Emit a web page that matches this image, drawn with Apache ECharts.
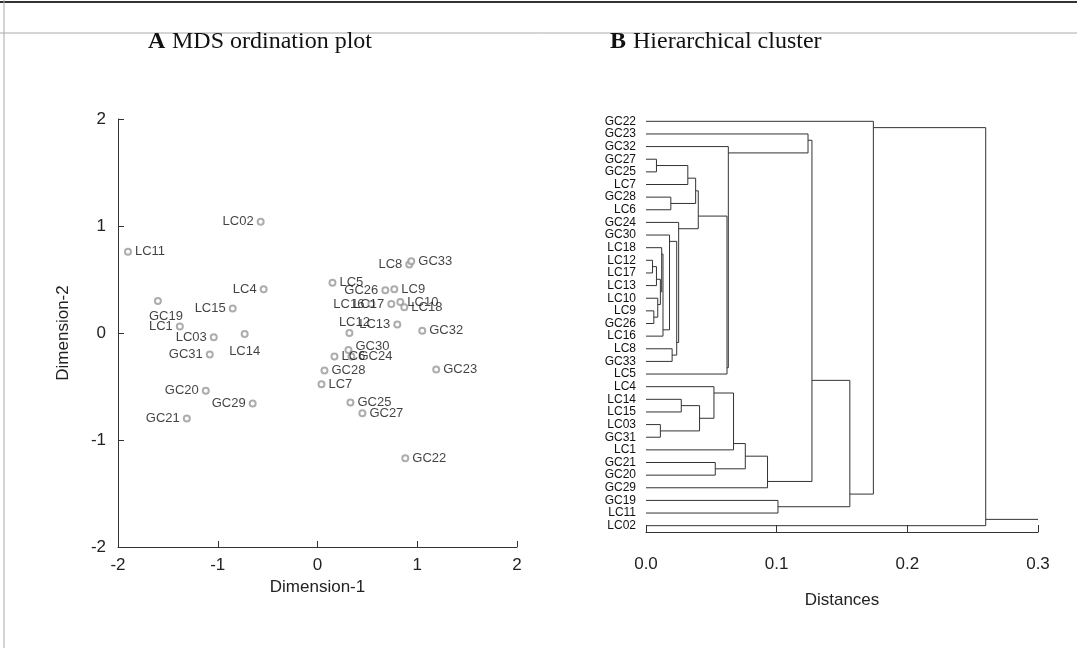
<!DOCTYPE html>
<html><head><meta charset="utf-8">
<script src="https://cdn.jsdelivr.net/npm/echarts@6/dist/echarts.min.js"></script>
<style>html,body{margin:0;padding:0;background:#fff}#c{width:1077px;height:650px}</style>
</head><body><div id="c"></div>
<script>
// ---- Panel A: MDS ordination ----
const pointNames = ['LC02','LC11','LC4','GC19','LC15','LC1','LC03','GC31','LC14','GC20','GC29','GC21',
  'LC8','GC33','LC5','GC26','LC9','LC16','LC17','LC10','LC18','LC13','LC12','GC32','GC30','LC6','GC24',
  'GC28','LC7','GC23','GC25','GC27','GC22'];
const pointX = [-0.57,-1.90,-0.54,-1.60,-0.85,-1.38,-1.04,-1.08,-0.73,-1.12,-0.65,-1.31,
  0.92,0.94,0.15,0.68,0.77,0.54,0.74,0.83,0.87,0.80,0.32,1.05,0.31,0.17,0.34,
  0.07,0.04,1.19,0.33,0.45,0.88];
const pointY = [1.04,0.76,0.41,0.30,0.23,0.06,-0.04,-0.20,-0.01,-0.54,-0.66,-0.80,
  0.64,0.67,0.47,0.40,0.41,0.27,0.27,0.29,0.24,0.08,0.00,0.02,-0.16,-0.22,-0.22,
  -0.35,-0.48,-0.34,-0.65,-0.75,-1.17];
const dimTicks = [-2,-1,0,1,2];

// ---- Panel B: hierarchical cluster ----
const leafOrder = ['GC22','GC23','GC32','GC27','GC25','LC7','GC28','LC6','GC24','GC30','LC18','LC12',
  'LC17','LC13','LC10','LC9','GC26','LC16','LC8','GC33','LC5','LC4','LC14','LC15','LC03','GC31','LC1',
  'GC21','GC20','GC29','GC19','LC11','LC02'];
// merge k creates node "n<k>"
const mergeLeft  = ['LC12','n0','LC9','LC10','n1','LC18','n5','GC30','LC8','n7','GC24','GC27','n11','GC28','n12','n14','n15','GC32','GC23',
  'LC14','LC03','n19','LC4','n22','GC21','n23','n25','n18','GC19','n27','GC22','n30'];
const mergeRight = ['LC17','LC13','GC26','n2','n3','n4','LC16','n6','GC33','n8','n9','GC25','LC7','LC6','n13','n10','LC5','n16','n17',
  'LC15','GC31','n20','n21','LC1','GC20','n24','GC29','n26','LC11','n28','n29','LC02'];
const mergeHeight = [0.005,0.008,0.006,0.009,0.011,0.012,0.013,0.018,0.020,0.0235,0.025,0.008,0.032,0.019,0.038,0.040,0.062,0.063,0.124,
  0.027,0.011,0.041,0.052,0.067,0.053,0.076,0.093,0.127,0.101,0.156,0.174,0.260];
const distTicks = [0, 0.1, 0.2, 0.3];

// label placement for the scatter (style only)
const labelPlace = {
  LC11:['right',0,0], GC19:['bottom',8,2], LC14:['bottom',0,4], GC33:['right',0,0], LC5:['right',0,0],
  LC9:['right',0,0], LC10:['right',0,0], LC18:['right',0,0], LC12:['top',5,3], GC32:['right',0,0],
  GC30:['right',0,-4], LC6:['right',0,0], GC24:['right',0,0], GC28:['right',0,0], LC7:['right',0,0],
  GC23:['right',0,0], GC25:['right',0,0], GC27:['right',0,0], GC22:['right',0,0]
};

const scatterData = pointNames.map((n, i) => {
  const p = labelPlace[n] || ['left',0,0];
  return { name: n, value: [pointX[i], pointY[i]],
    label: { position: p[0], offset: [p[1], p[2]] } };
});

// build dendrogram geometry
const node = {};
leafOrder.forEach((n, i) => node[n] = { y: i, h: 0, lo: i, hi: i });
const segs = [];
mergeLeft.forEach((a, k) => {
  let A = node[a], B = node[mergeRight[k]];
  if (A.lo > B.lo) { const t = A; A = B; B = t; }
  const h = mergeHeight[k];
  const y = (A.hi + B.lo) / 2;
  segs.push({ coords: [[A.h, A.y], [h, A.y], [h, B.y], [B.h, B.y]] });
  node['n' + k] = { y: y, h: h, lo: A.lo, hi: B.hi };
});
const root = node['n' + (mergeLeft.length - 1)];
segs.push({ coords: [[root.h, root.y], [distTicks[distTicks.length - 1], root.y]] });

const axisCol = '#333';
const sans = 'Liberation Sans, Arial, sans-serif';
const serif = 'Liberation Serif, Times New Roman, serif';

const chart = echarts.init(document.getElementById('c'), null, { renderer: 'canvas' });
chart.setOption({
  backgroundColor: '#fff',
  animation: false,
  grid: [
    { left: 118, top: 119, width: 399, height: 428 },
    { left: 646, top: 115, width: 392, height: 417 }
  ],
  xAxis: [
    { gridIndex: 0, type: 'value', min: dimTicks[0], max: dimTicks[dimTicks.length - 1], interval: 1,
      name: 'Dimension-1', nameLocation: 'middle', nameGap: 27,
      nameTextStyle: { fontFamily: sans, fontSize: 17, color: '#222' },
      axisLine: { onZero: false, lineStyle: { color: axisCol, width: 1 } },
      axisTick: { inside: true, length: 6, lineStyle: { color: axisCol } },
      axisLabel: { fontFamily: sans, fontSize: 17, color: '#222', margin: 10 },
      splitLine: { show: false } },
    { gridIndex: 1, type: 'value', min: 0, max: 0.3, interval: 0.1,
      name: 'Distances', nameLocation: 'middle', nameGap: 60,
      nameTextStyle: { fontFamily: sans, fontSize: 17, color: '#222' },
      axisLine: { onZero: false, lineStyle: { color: axisCol, width: 1 } },
      axisTick: { inside: true, length: 7, lineStyle: { color: axisCol } },
      axisLabel: { fontFamily: sans, fontSize: 17, color: '#222', margin: 24,
        formatter: v => v.toFixed(1) },
      splitLine: { show: false } }
  ],
  yAxis: [
    { gridIndex: 0, type: 'value', min: dimTicks[0], max: dimTicks[dimTicks.length - 1], interval: 1,
      name: 'Dimension-2', nameLocation: 'middle', nameGap: 46, nameRotate: 90,
      nameTextStyle: { fontFamily: sans, fontSize: 17, color: '#222' },
      axisLine: { show: true, onZero: false, lineStyle: { color: axisCol, width: 1 } },
      axisTick: { show: true, inside: true, length: 6, lineStyle: { color: axisCol } },
      axisLabel: { fontFamily: sans, fontSize: 17, color: '#222', margin: 12 },
      splitLine: { show: false } },
    { gridIndex: 1, type: 'value', min: -0.5, max: leafOrder.length - 0.5, inverse: true, show: false },
    { gridIndex: 1, type: 'category', data: leafOrder, inverse: true, position: 'left',
      axisLine: { show: false, onZero: false }, axisTick: { show: false },
      axisLabel: { fontFamily: sans, fontSize: 12, color: '#111', margin: 10, interval: 0 } }
  ],
  series: [
    { type: 'scatter', xAxisIndex: 0, yAxisIndex: 0, data: scatterData,
      symbol: 'emptyCircle', symbolSize: 6,
      itemStyle: { color: '#999', borderWidth: 1 },
      label: { show: true, formatter: '{b}', fontFamily: sans, fontSize: 13, color: '#111', distance: 3 } },
    { type: 'lines', coordinateSystem: 'cartesian2d', xAxisIndex: 1, yAxisIndex: 1,
      polyline: true, data: segs, silent: true,
      lineStyle: { color: '#333', width: 1, opacity: 1 } }
  ],
  graphic: [
    { type: 'line', shape: { x1: 0, y1: 2, x2: 1077, y2: 2 }, style: { stroke: '#333', lineWidth: 2 }, z: 0 },
    { type: 'line', shape: { x1: 0, y1: 33, x2: 1077, y2: 33 }, style: { stroke: '#aaa', lineWidth: 1 }, z: 0 },
    { type: 'line', shape: { x1: 4, y1: 0, x2: 4, y2: 648 }, style: { stroke: '#aaa', lineWidth: 1 }, z: 0 },
    { type: 'text', x: 148, y: 42, z: 10,
      style: { text: 'A', font: 'bold 24px ' + serif, fill: '#111', textVerticalAlign: 'middle' } },
    { type: 'text', x: 172, y: 42, z: 10,
      style: { text: 'MDS ordination plot', font: '24px ' + serif, fill: '#111', textVerticalAlign: 'middle' } },
    { type: 'text', x: 610, y: 42, z: 10,
      style: { text: 'B', font: 'bold 24px ' + serif, fill: '#111', textVerticalAlign: 'middle' } },
    { type: 'text', x: 633, y: 42, z: 10,
      style: { text: 'Hierarchical cluster', font: '24px ' + serif, fill: '#111', textVerticalAlign: 'middle' } }
  ]
});
</script></body></html>
